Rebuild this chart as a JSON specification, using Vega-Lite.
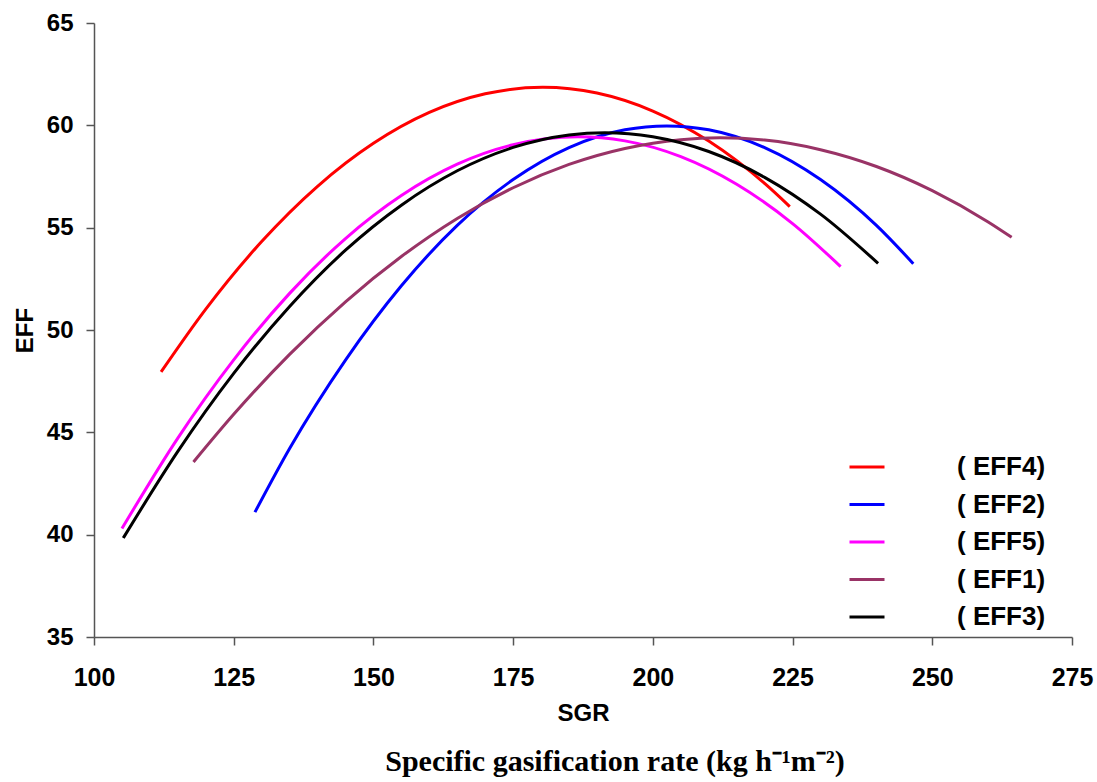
{
  "$schema": "https://vega.github.io/schema/vega-lite/v6.json",
  "autosize": {"type": "none"},
  "padding": {"left": 94, "top": 23, "right": 25, "bottom": 145},
  "width": 978,
  "height": 614,
  "background": "white",
  "config": {
    "view": {"stroke": null},
    "font": "Liberation Sans"
  },
  "title": {
    "text": "Specific gasification rate (kg h⁻¹m⁻²)",
    "orient": "bottom",
    "anchor": "middle",
    "font": "Liberation Serif",
    "fontSize": 30,
    "fontWeight": "bold",
    "color": "black",
    "dx": 32,
    "offset": 22
  },
  "data": {
    "values": [
      {"series": "( EFF4)", "x": 112.0, "y": 47.95},
      {"series": "( EFF4)", "x": 120, "y": 51.02},
      {"series": "( EFF4)", "x": 130, "y": 54.32},
      {"series": "( EFF4)", "x": 140, "y": 57.02},
      {"series": "( EFF4)", "x": 150, "y": 59.12},
      {"series": "( EFF4)", "x": 160, "y": 60.63},
      {"series": "( EFF4)", "x": 170, "y": 61.54},
      {"series": "( EFF4)", "x": 180.3, "y": 61.86},
      {"series": "( EFF4)", "x": 190, "y": 61.58},
      {"series": "( EFF4)", "x": 200, "y": 60.70},
      {"series": "( EFF4)", "x": 210, "y": 59.23},
      {"series": "( EFF4)", "x": 220, "y": 57.16},
      {"series": "( EFF4)", "x": 224.5, "y": 56.03},

      {"series": "( EFF2)", "x": 128.8, "y": 41.10},
      {"series": "( EFF2)", "x": 135, "y": 44.21},
      {"series": "( EFF2)", "x": 145, "y": 48.53},
      {"series": "( EFF2)", "x": 155, "y": 52.16},
      {"series": "( EFF2)", "x": 165, "y": 55.11},
      {"series": "( EFF2)", "x": 175, "y": 57.35},
      {"series": "( EFF2)", "x": 185, "y": 58.91},
      {"series": "( EFF2)", "x": 195, "y": 59.78},
      {"series": "( EFF2)", "x": 202.5, "y": 59.97},
      {"series": "( EFF2)", "x": 210, "y": 59.78},
      {"series": "( EFF2)", "x": 220, "y": 58.91},
      {"series": "( EFF2)", "x": 230, "y": 57.35},
      {"series": "( EFF2)", "x": 240, "y": 55.11},
      {"series": "( EFF2)", "x": 246.6, "y": 53.24},

      {"series": "( EFF5)", "x": 105.0, "y": 40.30},
      {"series": "( EFF5)", "x": 115, "y": 44.72},
      {"series": "( EFF5)", "x": 125, "y": 48.54},
      {"series": "( EFF5)", "x": 135, "y": 51.79},
      {"series": "( EFF5)", "x": 145, "y": 54.47},
      {"series": "( EFF5)", "x": 155, "y": 56.57},
      {"series": "( EFF5)", "x": 165, "y": 58.10},
      {"series": "( EFF5)", "x": 175, "y": 59.05},
      {"series": "( EFF5)", "x": 186.6, "y": 59.44},
      {"series": "( EFF5)", "x": 195, "y": 59.24},
      {"series": "( EFF5)", "x": 205, "y": 58.47},
      {"series": "( EFF5)", "x": 215, "y": 57.12},
      {"series": "( EFF5)", "x": 225, "y": 55.20},
      {"series": "( EFF5)", "x": 233.6, "y": 53.10},

      {"series": "( EFF1)", "x": 117.8, "y": 43.55},
      {"series": "( EFF1)", "x": 125, "y": 45.88},
      {"series": "( EFF1)", "x": 135, "y": 48.81},
      {"series": "( EFF1)", "x": 145, "y": 51.38},
      {"series": "( EFF1)", "x": 155, "y": 53.59},
      {"series": "( EFF1)", "x": 165, "y": 55.45},
      {"series": "( EFF1)", "x": 175, "y": 56.95},
      {"series": "( EFF1)", "x": 185, "y": 58.09},
      {"series": "( EFF1)", "x": 195, "y": 58.87},
      {"series": "( EFF1)", "x": 205, "y": 59.30},
      {"series": "( EFF1)", "x": 212, "y": 59.39},
      {"series": "( EFF1)", "x": 220, "y": 59.28},
      {"series": "( EFF1)", "x": 230, "y": 58.81},
      {"series": "( EFF1)", "x": 240, "y": 57.99},
      {"series": "( EFF1)", "x": 250, "y": 56.81},
      {"series": "( EFF1)", "x": 260, "y": 55.28},
      {"series": "( EFF1)", "x": 264.2, "y": 54.53},

      {"series": "( EFF3)", "x": 105.25, "y": 39.84},
      {"series": "( EFF3)", "x": 115, "y": 44.07},
      {"series": "( EFF3)", "x": 125, "y": 47.88},
      {"series": "( EFF3)", "x": 135, "y": 51.15},
      {"series": "( EFF3)", "x": 145, "y": 53.90},
      {"series": "( EFF3)", "x": 155, "y": 56.10},
      {"series": "( EFF3)", "x": 165, "y": 57.78},
      {"series": "( EFF3)", "x": 175, "y": 58.92},
      {"series": "( EFF3)", "x": 185, "y": 59.53},
      {"series": "( EFF3)", "x": 191.4, "y": 59.64},
      {"series": "( EFF3)", "x": 200, "y": 59.44},
      {"series": "( EFF3)", "x": 210, "y": 58.72},
      {"series": "( EFF3)", "x": 220, "y": 57.46},
      {"series": "( EFF3)", "x": 230, "y": 55.66},
      {"series": "( EFF3)", "x": 240.3, "y": 53.26}
    ]
  },
  "mark": {"type": "line", "interpolate": "monotone", "strokeWidth": 3, "clip": false},
  "encoding": {
    "x": {
      "field": "x",
      "type": "quantitative",
      "scale": {"domain": [100, 275], "nice": false, "zero": false},
      "axis": {
        "values": [100, 125, 150, 175, 200, 225, 250, 275],
        "title": "SGR",
        "titleFont": "Liberation Sans",
        "titleFontSize": 24,
        "titleFontWeight": "bold",
        "titleColor": "black",
        "titlePadding": 11,
        "labelFont": "Liberation Sans",
        "labelFontSize": 25,
        "labelFontWeight": "bold",
        "labelColor": "black",
        "labelPadding": 20,
        "labelFlush": false,
        "grid": false,
        "domainColor": "#555555",
        "domainWidth": 1.5,
        "tickColor": "#555555",
        "tickWidth": 1.5,
        "tickSize": 8
      }
    },
    "y": {
      "field": "y",
      "type": "quantitative",
      "scale": {"domain": [35, 65], "nice": false, "zero": false},
      "axis": {
        "values": [35, 40, 45, 50, 55, 60, 65],
        "title": "EFF",
        "titleFont": "Liberation Sans",
        "titleFontSize": 24,
        "titleFontWeight": "bold",
        "titleColor": "black",
        "titlePadding": 9,
        "labelFont": "Liberation Sans",
        "labelFontSize": 24,
        "labelFontWeight": "bold",
        "labelColor": "black",
        "labelPadding": 13,
        "labelFlush": false,
        "grid": false,
        "domainColor": "#555555",
        "domainWidth": 1.5,
        "tickColor": "#555555",
        "tickWidth": 1.5,
        "tickSize": 8
      }
    },
    "color": {
      "field": "series",
      "type": "nominal",
      "scale": {
        "domain": ["( EFF4)", "( EFF2)", "( EFF5)", "( EFF1)", "( EFF3)"],
        "range": ["#FF0000", "#0000FF", "#FF00FF", "#993366", "#000000"]
      },
      "legend": {
        "title": null,
        "orient": "none",
        "legendX": 754,
        "legendY": 425,
        "symbolType": "stroke",
        "symbolSize": 1225,
        "symbolStrokeWidth": 3,
        "labelFont": "Liberation Sans",
        "labelFontSize": 26,
        "labelFontWeight": "bold",
        "labelColor": "black",
        "labelOffset": 71,
        "rowPadding": 5.5,
        "padding": 0
      }
    }
  }
}
